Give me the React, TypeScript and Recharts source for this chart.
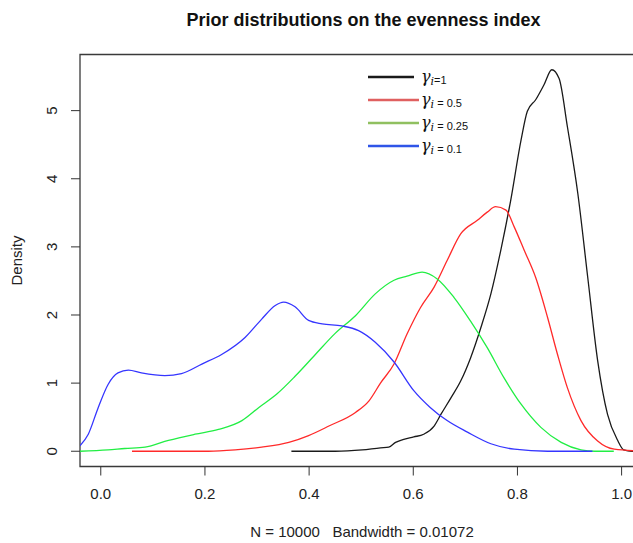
import { LineChart, Line, XAxis, YAxis, ReferenceArea, Legend, Label } from 'recharts';

const xTicks = [0, 0.2, 0.4, 0.6, 0.8, 1.0];
const yTicks = [0, 1, 2, 3, 4, 5];

// gamma_i = 1
const g1X = [0.366, 0.45, 0.502, 0.537, 0.553, 0.566, 0.58, 0.601, 0.62, 0.64, 0.653, 0.672, 0.691, 0.71, 0.73, 0.749, 0.768, 0.787, 0.807, 0.819, 0.835, 0.851, 0.866, 0.88, 0.896, 0.916, 0.935, 0.954, 0.973, 0.993, 1.004, 1.02, 1.045];
const g1Y = [0, 0.0, 0.02, 0.05, 0.06, 0.13, 0.17, 0.21, 0.25, 0.37, 0.54, 0.78, 1.03, 1.37, 1.82, 2.31, 2.95, 3.68, 4.57, 4.99, 5.16, 5.38, 5.6, 5.47, 4.76, 3.78, 2.55, 1.33, 0.54, 0.15, 0.02, 0, 0];

// gamma_i = 0.5
const g05X = [0.06, 0.207, 0.258, 0.309, 0.361, 0.399, 0.438, 0.489, 0.515, 0.537, 0.563, 0.588, 0.614, 0.64, 0.665, 0.691, 0.723, 0.742, 0.758, 0.778, 0.794, 0.813, 0.835, 0.858, 0.877, 0.896, 0.922, 0.954, 0.986, 1.045];
const g05Y = [0, 0.0, 0.02, 0.06, 0.13, 0.23, 0.37, 0.57, 0.74, 1.0, 1.28, 1.72, 2.11, 2.41, 2.8, 3.19, 3.39, 3.51, 3.59, 3.54, 3.29, 2.95, 2.55, 1.96, 1.42, 0.93, 0.45, 0.15, 0.03, 0];

// gamma_i = 0.25
const g025X = [-0.04, 0.014, 0.046, 0.085, 0.13, 0.181, 0.226, 0.271, 0.303, 0.338, 0.373, 0.412, 0.45, 0.489, 0.527, 0.563, 0.588, 0.617, 0.646, 0.678, 0.71, 0.742, 0.774, 0.807, 0.845, 0.884, 0.922, 0.948, 0.985];
const g025Y = [0, 0.02, 0.04, 0.06, 0.16, 0.25, 0.32, 0.45, 0.64, 0.84, 1.1, 1.42, 1.73, 1.99, 2.31, 2.51, 2.57, 2.63, 2.53, 2.26, 1.91, 1.52, 1.08, 0.69, 0.35, 0.13, 0.02, 0, 0];

// gamma_i = 0.1
const g01X = [-0.04, -0.024, -0.005, 0.014, 0.033, 0.053, 0.078, 0.123, 0.155, 0.194, 0.232, 0.277, 0.309, 0.335, 0.351, 0.373, 0.399, 0.425, 0.463, 0.495, 0.527, 0.563, 0.601, 0.633, 0.665, 0.704, 0.749, 0.794, 0.858, 0.944];
const g01Y = [0.08, 0.25, 0.64, 0.98, 1.15, 1.19, 1.15, 1.11, 1.14, 1.28, 1.42, 1.67, 1.94, 2.14, 2.19, 2.12, 1.92, 1.87, 1.84, 1.77, 1.6, 1.31, 0.89, 0.64, 0.45, 0.28, 0.11, 0.03, 0, 0];

const legendValues = ['=1', ' = 0.5', ' = 0.25', ' = 0.1'];
const curveColors = ['#1a1a1a', '#ff2a2a', '#22ee44', '#3535ff'];
const legendColors = ['#1a1a1a', '#e06060', '#90c060', '#2f55e8'];

const toPoints = (xs: number[], ys: number[]) => xs.map((x, i) => ({ x, density: ys[i] }));
const series = [toPoints(g1X, g1Y), toPoints(g05X, g05Y), toPoints(g025X, g025Y), toPoints(g01X, g01Y)];

const font = '"Liberation Sans", Arial, sans-serif';

function YTick({ x, y, payload }: any) {
  const cx = x - 19.5;
  return (
    <text x={cx} y={y} transform={`rotate(-90, ${cx}, ${y})`} textAnchor="middle" dominantBaseline="central" fontSize={15} fill="#222">
      {payload.value}
    </text>
  );
}

function DensityLabel({ viewBox }: any) {
  const cx = viewBox.x + 16.5;
  const cy = viewBox.y + viewBox.height / 2;
  return (
    <text x={cx} y={cy} transform={`rotate(-90, ${cx}, ${cy})`} textAnchor="middle" dominantBaseline="central" fontSize={15} fill="#222">
      Density
    </text>
  );
}

function LegendBox() {
  return (
    <div style={{ fontFamily: font }}>
      {legendValues.map((v, i) => (
        <div key={v} style={{ display: 'flex', alignItems: 'center', height: 23 }}>
          <svg width={i === 0 ? 46 : 51} height={4} style={{ display: 'block' }}>
            <line x1={0} y1={2} x2={i === 0 ? 46 : 51} y2={2} stroke={legendColors[i]} strokeWidth={2.4} />
          </svg>
          <span style={{ marginLeft: i === 0 ? 7 : 2, whiteSpace: 'pre', color: '#111', lineHeight: 1 }}>
            <span style={{ fontFamily: '"DejaVu Serif", serif', fontStyle: 'italic', fontSize: 16 }}>γ</span>
            <span style={{ fontFamily: '"DejaVu Serif", serif', fontStyle: 'italic', fontSize: 11, position: 'relative', top: 3 }}>i</span>
            <span style={{ fontSize: 11, position: 'relative', top: 2 }}>{v}</span>
          </span>
        </div>
      ))}
    </div>
  );
}

export default function App() {
  return (
    <div style={{ position: 'absolute', left: 0, top: 0, width: 633, height: 543, overflow: 'hidden', background: '#fff', fontFamily: font }}>
      <svg width={633} height={40} style={{ position: 'absolute', left: 0, top: 0 }}>
        <text x={363.5} y={25.5} textAnchor="middle" fontSize={18} fontWeight="bold" fill="#111">
          Prior distributions on the evenness index
        </text>
      </svg>
      <div style={{ position: 'absolute', left: 0, top: 0 }}>
        <LineChart width={660} height={543} margin={{ top: 54.5, right: 16, bottom: 0, left: 0 }}>
          <XAxis
            dataKey="x"
            type="number"
            domain={[-0.0399, 1.043]}
            ticks={xTicks}
            allowDataOverflow
            tickFormatter={(v: number) => v.toFixed(1)}
            axisLine={false}
            tickSize={9}
            tickMargin={13}
            tickLine={{ stroke: '#333' }}
            tick={{ fontSize: 15, fill: '#222' }}
            height={76.5}
          >
            <Label value={'N = 10000\u00a0\u00a0\u00a0Bandwidth = 0.01072'} position="insideBottom" offset={6} fontSize={15} fill="#222" />
          </XAxis>
          <YAxis
            type="number"
            domain={[-0.224, 5.824]}
            ticks={yTicks}
            allowDataOverflow
            axisLine={false}
            tickSize={9}
            tickMargin={0}
            tickLine={{ stroke: '#333' }}
            tick={<YTick />}
            width={80}
          >
            <Label content={<DensityLabel />} />
          </YAxis>
          <ReferenceArea x1={-0.0399} x2={1.043} y1={-0.224} y2={5.824} fill="none" stroke="#3a3a3a" strokeWidth={1.3} />
          {series.map((pts, i) => (
            <Line
              key={i}
              data={pts}
              dataKey="density"
              type="monotone"
              stroke={curveColors[i]}
              strokeWidth={1.3}
              dot={false}
              activeDot={false}
              isAnimationActive={false}
            />
          ))}
          <Legend
            layout="vertical"
            align="center"
            verticalAlign="middle"
            content={() => <LegendBox />}
            wrapperStyle={{ left: 368, top: 65.8, width: 130, height: 92 }}
          />
        </LineChart>
      </div>
    </div>
  );
}
